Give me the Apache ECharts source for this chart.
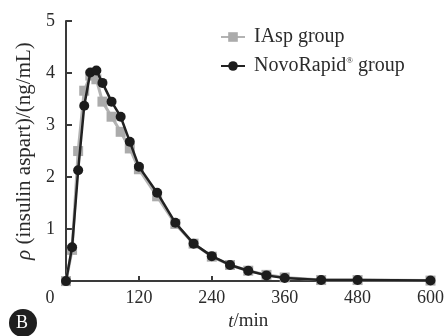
<!DOCTYPE html>
<html>
<head>
<meta charset="utf-8">
<script src="https://cdn.jsdelivr.net/npm/echarts@6/dist/echarts.min.js"></script>
<style>
  html, body { margin: 0; padding: 0; background: #fff; }
  #chart { width: 447px; height: 336px; }
</style>
</head>
<body>
<div id="chart"></div>
<script>
// sampling times (min)
const times = [0, 10, 20, 30, 40, 50, 60, 75, 90, 105, 120, 150, 180, 210, 240, 270, 300, 330, 360, 420, 480, 600];
// concentrations (ng/mL)
const iasp = [0, 0.6, 2.5, 3.66, 3.95, 3.88, 3.45, 3.16, 2.87, 2.55, 2.15, 1.63, 1.1, 0.72, 0.47, 0.31, 0.2, 0.12, 0.07, 0.02, 0.02, 0.01];
const novo = [0, 0.65, 2.13, 3.37, 4.01, 4.05, 3.81, 3.45, 3.16, 2.68, 2.2, 1.7, 1.12, 0.72, 0.48, 0.31, 0.2, 0.11, 0.06, 0.02, 0.02, 0.01];
const xTicks = [0, 120, 240, 360, 480, 600];
const yTicks = [0, 1, 2, 3, 4, 5];

const font = "'Liberation Serif', 'DejaVu Serif', serif";
const axisColor = "#3a3a3a";
const textColor = "#2b2b2b";

const pair = (vals) => times.map((t, i) => [t, vals[i]]);

const chart = echarts.init(document.querySelector("#chart"));
chart.setOption({
  animation: false,
  textStyle: { fontFamily: font },
  grid: { left: 66, right: 13, top: 21, bottom: 50 },
  legend: {
    orient: "vertical",
    left: 215,
    top: 22,
    itemWidth: 24,
    itemHeight: 12,
    itemGap: 9,
    textStyle: {
      fontFamily: font, fontSize: 20, color: textColor,
      rich: {
        a: { fontFamily: font, fontSize: 20, color: textColor },
        p: { fontFamily: font, fontSize: 20, color: textColor, padding: [0, 0, 0, 4] },
        s: { fontFamily: font, fontSize: 9, color: textColor, verticalAlign: "top", padding: [0, 0, 9, 0] }
      }
    },
    formatter: (n) => n === "NovoRapid group" ? "{p|NovoRapid}{s|®}{a| group}" : "{p|" + n + "}",
    data: ["IAsp group", "NovoRapid group"]
  },
  xAxis: {
    type: "value",
    min: xTicks[0],
    max: xTicks[xTicks.length - 1],
    interval: 120,
    name: "{i|t}/min",
    nameLocation: "middle",
    nameGap: 29,
    nameTextStyle: {
      fontFamily: font, fontSize: 19, color: textColor,
      rich: { i: { fontFamily: font, fontSize: 19, fontStyle: "italic", color: textColor } }
    },
    axisLine: { lineStyle: { color: axisColor, width: 2 } },
    axisTick: { inside: true, length: 5, lineStyle: { color: axisColor, width: 2 } },
    axisLabel: {
      margin: 8, fontSize: 18, color: textColor, fontFamily: font, showMaxLabel: true,
      formatter: (v) => v === 0 ? "{o|0}" : String(v),
      rich: { o: { fontFamily: font, fontSize: 18, color: textColor, padding: [0, 32, 0, 0] } }
    },
    splitLine: { show: false }
  },
  yAxis: {
    type: "value",
    min: yTicks[0],
    max: yTicks[yTicks.length - 1],
    interval: 1,
    name: "{i|ρ} (insulin aspart)/(ng/mL)",
    nameLocation: "middle",
    nameGap: 27,
    nameTextStyle: {
      fontFamily: font, fontSize: 21, color: textColor,
      rich: { i: { fontFamily: font, fontSize: 21, fontStyle: "italic", color: textColor } }
    },
    axisLine: { show: true, lineStyle: { color: axisColor, width: 2 } },
    axisTick: { show: true, inside: true, length: 6, lineStyle: { color: axisColor, width: 2 } },
    axisLabel: {
      margin: 11, fontSize: 18, color: textColor, fontFamily: font,
      formatter: (v) => v === 0 ? "" : String(v)
    },
    splitLine: { show: false }
  },
  series: [
    {
      name: "IAsp group",
      type: "line",
      data: pair(iasp),
      symbol: "rect",
      symbolSize: 10,
      z: 2,
      lineStyle: { color: "#b3b3b3", width: 3 },
      itemStyle: { color: "#ababab", borderWidth: 0 }
    },
    {
      name: "NovoRapid group",
      type: "line",
      data: pair(novo),
      symbol: "circle",
      symbolSize: 10,
      z: 3,
      lineStyle: { color: "#222", width: 2.5 },
      itemStyle: { color: "#1c1c1c", borderWidth: 0 }
    }
  ],
  graphic: [
    { type: "circle", left: 9, top: 309, shape: { r: 14 }, style: { fill: "#1f1f1f" } },
    {
      type: "text", left: 16, top: 314,
      style: { text: "B", fill: "#fff", font: "18px " + font }
    }
  ]
});
</script>
</body>
</html>
